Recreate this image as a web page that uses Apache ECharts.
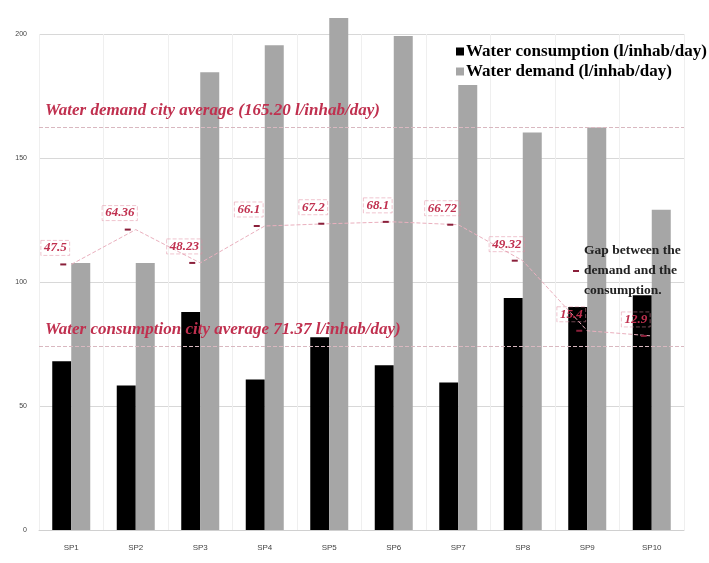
<!DOCTYPE html>
<html><head><meta charset="utf-8">
<script src="https://cdn.jsdelivr.net/npm/echarts@6/dist/echarts.min.js"></script>
<style>html,body{margin:0;padding:0;background:#fff}#c{width:709px;height:563px}</style>
</head><body><div id="c"></div>
<script>
const categories = ['SP1','SP2','SP3','SP4','SP5','SP6','SP7','SP8','SP9','SP10'];
const consumption = [68, 58.3, 87.9, 60.7, 77.7, 66.4, 59.5, 93.5, 89.9, 94.7];
const demand = [107.7, 107.7, 184.6, 195.5, 206.5, 199.2, 179.4, 160.3, 162.3, 129.1];
const gap = [47.5, 64.36, 48.23, 66.1, 67.2, 68.1, 66.72, 49.32, 15.4, 12.9];
const yTicks = [0, 50, 100, 150, 200];
const avgValues = [162.5, 74.2];
const avgLabels = ['Water demand city average (165.20 l/inhab/day)', 'Water consumption city average 71.37 l/inhab/day)'];
const seriesNames = ['Water consumption (l/inhab/day)', 'Water demand (l/inhab/day)', 'Gap between the demand and the consumption.'];

const RED = '#c0304f';
const SERIF = 'Liberation Serif';
const chart = echarts.init(document.getElementById('c'));
chart.setOption({
  animation: false,
  backgroundColor: '#fff',
  grid: {left: 39, right: 25, top: 34, bottom: 33},
  legend: [{
    data: [seriesNames[0], seriesNames[1]],
    orient: 'vertical', left: 451, top: 38,
    itemWidth: 8, itemHeight: 8, itemGap: 3, icon: 'rect',
    textStyle: {fontFamily: SERIF, fontWeight: 'bold', fontSize: 17, color: '#000', padding: [0,0,0,-3]}
  }, {
    data: [seriesNames[2]],
    orient: 'vertical', left: 568, top: 236,
    itemWidth: 6, itemHeight: 2, icon: 'rect',
    formatter: () => 'Gap between the\ndemand and the\nconsumption.',
    textStyle: {fontFamily: SERIF, fontWeight: 'bold', fontSize: 13.5, color: '#222', lineHeight: 20}
  }],
  xAxis: {
    type: 'category', data: categories,
    axisTick: {show: false},
    axisLine: {lineStyle: {color: '#d0d0d0'}},
    axisLabel: {fontSize: 8, color: '#444', margin: 14},
    splitLine: {show: true, lineStyle: {color: '#efefef'}}
  },
  yAxis: [{
    type: 'value', min: 0, max: 200, interval: 50,
    axisLabel: {fontSize: 7, color: '#444', margin: 12, formatter: v => yTicks.includes(v) ? String(v) : ''},
    axisLine: {show: false}, axisTick: {show: false},
    splitLine: {lineStyle: {color: '#d8d8d8'}}
  }, {
    type: 'value', min: -81, max: 159, show: false, splitLine: {show: false}
  }],
  series: [{
    name: seriesNames[0], type: 'bar', data: consumption,
    barWidth: 19, barGap: '0%', clip: false,
    itemStyle: {color: '#000'},
    markLine: {
      silent: true, symbol: 'none',
      lineStyle: {type: 'dashed', color: '#d9b8c0', width: 1},
      label: {position: 'insideStartTop', distance: [6, 8], fontFamily: SERIF, fontStyle: 'italic', fontWeight: 'bold', fontSize: 17, color: RED, formatter: p => p.name},
      data: avgValues.map((v, i) => ({yAxis: v, name: avgLabels[i]}))
    }
  }, {
    name: seriesNames[1], type: 'bar', data: demand,
    barWidth: 19, clip: false,
    itemStyle: {color: '#a6a6a6'}
  }, {
    name: seriesNames[2], type: 'line', yAxisIndex: 1, data: gap,
    symbol: 'rect', symbolSize: [6, 2], symbolOffset: [-8, 0],
    itemStyle: {color: '#8a1f3a'},
    lineStyle: {type: 'dashed', color: '#eab0be', width: 1},
    label: {show: true, position: 'top', offset: [-8, -2], distance: 6, fontFamily: SERIF, fontStyle: 'italic', fontWeight: 'bold', fontSize: 13, color: RED,
      borderColor: 'rgba(225,140,160,0.5)', borderWidth: 1, borderType: 'dashed', padding: [1, 3]}
  }]
});
</script></body></html>
